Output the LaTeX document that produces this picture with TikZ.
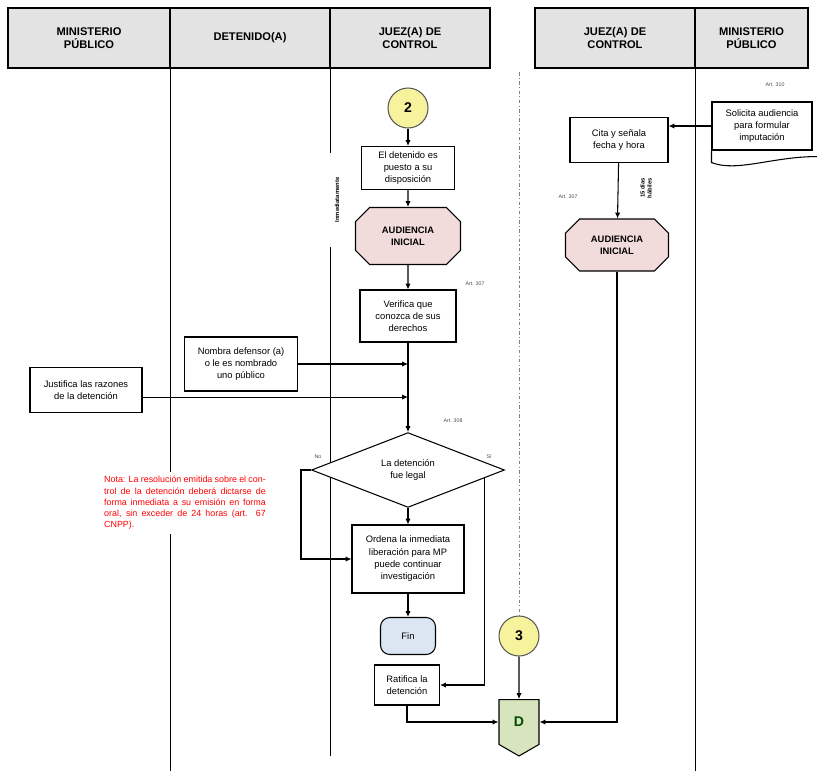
\documentclass[tikz,border=0pt]{standalone}
\usepackage{fontspec}
\setmainfont{Liberation Sans}
\usepackage{tikz}
\usetikzlibrary{shapes}
\usetikzlibrary{calc}
\usetikzlibrary{arrows.meta}
\definecolor{conny}{HTML}{F6F39C}
\definecolor{audpink}{HTML}{F2DCDB}
\definecolor{finblue}{HTML}{DCE6F2}
\definecolor{dgreen}{HTML}{D7E4BD}

\begin{document}
\begin{tikzpicture}[x=0.03cm, y=-0.03cm, >={Latex[length=5pt,width=4.5pt]}, line width=0.9pt,
  every node/.style={font=\fontsize{8}{10.5}\selectfont},
  lane/.style={draw, line width=1.3pt, fill=gray!22, minimum height=1.8cm, align=center, font=\fontsize{9.5}{11.5}\selectfont\bfseries},
  box/.style={draw, rectangle, align=center, fill=white, inner sep=2pt},
  aud/.style={draw, chamfered rectangle, chamfered rectangle xsep=0.3cm, fill=audpink, align=center, font=\fontsize{8}{10.5}\selectfont\bfseries},
  conn/.style={draw=gray!70!black, circle, fill=conny, minimum size=1.2cm, inner sep=0pt, font=\large\bfseries},
  art/.style={font=\fontsize{4.5}{5}\selectfont, text=gray!60!black}]
  \useasboundingbox (0,0) rectangle (817,770);

  \node[lane, minimum width=4.86cm] (hmp) at (89,38) {MINISTERIO\\PÚBLICO};
  \node[lane, minimum width=4.8cm] (hdet) at (250,38) {DETENIDO(A)};
  \node[lane, minimum width=4.8cm] (hjuez) at (410,38) {JUEZ(A) DE\\CONTROL};
  \node[lane, minimum width=4.8cm] (hjuez') at (615,38) {JUEZ(A) DE\\CONTROL};
  \node[lane, minimum width=3.39cm] (hmp') at (751.5,38) {MINISTERIO\\PÚBLICO};

  \draw (hmp.south east) -- ++(0,702);
  \draw (hdet.south east) -- ++(0,687);
  \draw (hjuez'.south east) -- ++(0,702);

  \node[conn] (c2) at (408,108) {2};
  \node[box, minimum width=2.79cm, minimum height=1.29cm] (put) at (408,168) {El detenido es\\puesto a su\\disposición};
  \node[aud, minimum width=3.15cm, minimum height=1.71cm] (aud) at (408,236) {AUDIENCIA\\INICIAL};
  \node[box, minimum width=2.88cm, minimum height=1.56cm] (ver) at (408,316) {Verifica que\\conozca de sus\\derechos};
  \node[box, minimum width=3.39cm, minimum height=1.62cm] (nom) at (241,364) {Nombra defensor (a)\\o le es nombrado\\uno público};
  \node[box, minimum width=3.36cm, minimum height=1.35cm] (jus) at (86,390) {Justifica las razones\\de la detención};
  \node[draw, diamond, fill=white, minimum width=5.79cm, minimum height=2.01cm, align=center, inner sep=0pt] (leg) at (408,470) {La detención\\fue legal};
  \node[box, minimum width=3.36cm, minimum height=2.04cm] (ord) at (408,559) {Ordena la inmediata\\liberación para MP\\puede continuar\\investigación};
  \node[draw, rectangle, rounded corners=8pt, fill=finblue, minimum width=1.65cm, minimum height=1.11cm] (fin) at (408,636) {Fin};
  \node[box, minimum width=1.95cm, minimum height=1.2cm] (rat) at (407,685) {Ratifica la\\detención};
  \node[conn] (c3) at (519,636) {3};
  \node[draw, signal, signal to=south, signal pointer angle=120, fill=dgreen, minimum width=1.2cm, minimum height=1.5cm, font=\large\bfseries, text=green!30!black] (dcon) at (519,722) {D};

  \node[box, minimum width=2.94cm, minimum height=1.35cm] (cita) at (619,140) {Cita y señala\\fecha y hora};
  \node[box, minimum width=3.0cm, minimum height=1.44cm] (sol) at (762,126) {Solicita audiencia\\para formular\\imputación};
  \draw (sol.south west) -- ++(0,12) .. controls +(25,10) and +(-45,0) .. ($(sol.south east)+(5,6)$);
  \node[aud, minimum width=3.09cm, minimum height=1.56cm] (aud') at (617,245) {AUDIENCIA\\INICIAL};

  \node[fill=white, text=red, text width=4.85cm, align=justify, font=\fontsize{7.6}{9.6}\selectfont, inner sep=4pt] (nota) at (185,503) {Nota: La resolución emitida sobre el control de la detención deberá dictarse de forma inmediata a su emisión en forma oral, sin exceder de 24 horas (art. 67 CNPP).};
  \node[rotate=90, fill=white, minimum width=2.8cm, minimum height=0.6cm, font=\fontsize{5}{6}\selectfont\bfseries] (inm) at (337,200) {Inmediatamente};
  \node[rotate=90, align=center, font=\fontsize{5}{6}\selectfont\bfseries] (plazo) at (646,188) {15 días\\hábiles};

  \node[art] (art310) at (775,85) {Art. 310};
  \node[art] (art309) at (568,197) {Art. 307};
  \node[art] (art307) at (475,284) {Art. 307};
  \node[art] (art308) at (453,421) {Art. 308};
  \node[art] (no) at (318,457) {No};
  \node[art] (si) at (489,457) {Sí};

  \coordinate (sep) at (519,72);
  \draw[dash dot, gray, line width=0.6pt] (sep) -- (sep |- c3.north);

  \path[->] (c2) edge (put);
  \path[->] (put) edge (aud);
  \path[->] (aud) edge (ver);
  \path[->] (ver) edge (leg);
  \draw[->] (nom.east) -- (nom.east -| ver.south);
  \draw[->] ([yshift=-6pt]jus.east) -- ([yshift=-6pt]jus.east -| ver.south);
  \path[->] (leg) edge (ord);
  \draw[->] (leg.west) -- ++(-10,0) |- (ord.west);
  \draw[->] (leg.-6) |- (rat.east);
  \path[->] (ord) edge (fin);
  \draw[->] (rat.south) |- (dcon.west);
  \path[->] (c3) edge (dcon);
  \draw[->] (aud'.south) |- (dcon.east);
  \draw[->] (sol.west) -- (sol.west -| cita.east);
  \path[->] (cita) edge (aud');
\end{tikzpicture}
\end{document}
